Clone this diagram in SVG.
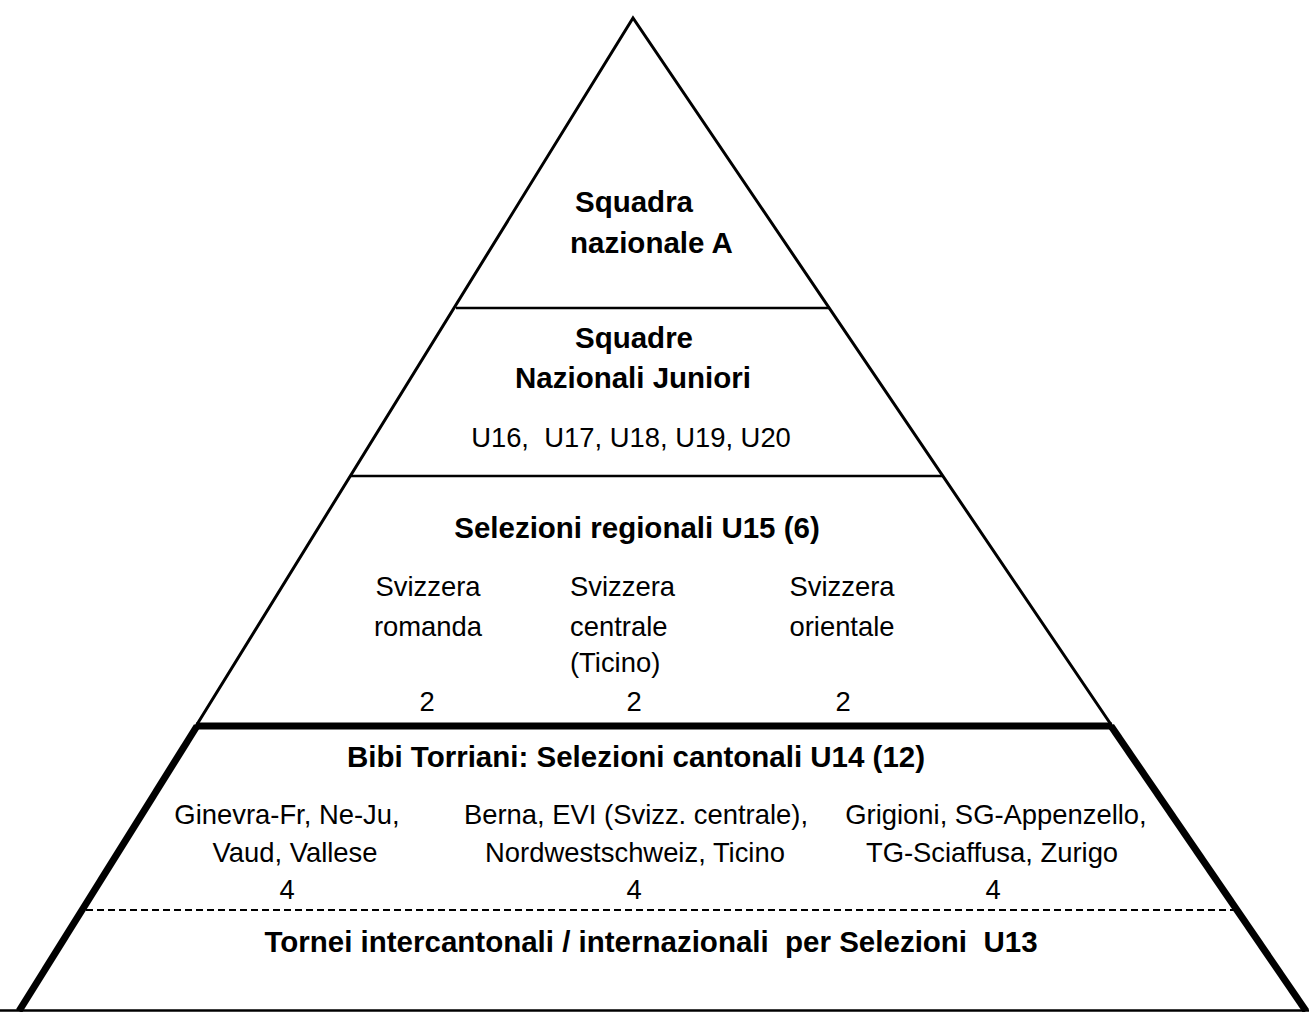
<svg xmlns="http://www.w3.org/2000/svg" width="1309" height="1012" viewBox="0 0 1309 1012">
<style>
  text { font-family: "Liberation Sans", Arial, sans-serif; fill: #000; }
  .b { font-weight: bold; font-size: 29.5px; }
  .r { font-size: 27.4px; }
  .c { text-anchor: middle; }
  .thin { stroke: #000; stroke-width: 3; fill: none; stroke-linecap: round; }
  .sep { stroke: #000; stroke-width: 2.5; fill: none; }
  .thick { stroke: #000; stroke-width: 7; fill: none; }
  .dash { stroke: #000; stroke-width: 2; fill: none; stroke-dasharray: 7 4; }
</style>
<rect width="1309" height="1012" fill="#fff"/>
<g id="connectors">
  <polyline class="thin" points="196,726 633,18 1112,726"/>
  <line class="thick" x1="197" y1="726" x2="19" y2="1011"/>
  <line class="thick" x1="1111" y1="726" x2="1306" y2="1011"/>
  <line class="sep" x1="456" y1="308" x2="830" y2="308"/>
  <line class="sep" x1="350" y1="476" x2="943" y2="476"/>
  <line class="thick" x1="196" y1="726" x2="1112" y2="726"/>
  <line class="dash" x1="86" y1="910" x2="1236" y2="910"/>
  <line class="sep" x1="0" y1="1010.5" x2="1309" y2="1010.5"/>
</g>
<g id="level-squadra-nazionale-a">
  <text class="b" x="575" y="212">Squadra</text>
  <text class="b" x="570" y="253">nazionale A</text>
</g>
<g id="level-squadre-juniori">
  <text class="b c" x="634" y="348">Squadre</text>
  <text class="b c" x="633" y="388">Nazionali Juniori</text>
  <text class="r c" x="631" y="447" xml:space="preserve">U16,  U17, U18, U19, U20</text>
</g>
<g id="level-selezioni-regionali">
  <text class="b c" x="637" y="538">Selezioni regionali U15 (6)</text>
  <text class="r c" x="428" y="596">Svizzera</text>
  <text class="r c" x="428" y="636">romanda</text>
  <text class="r c" x="427" y="711">2</text>
  <text class="r" x="570" y="596">Svizzera</text>
  <text class="r" x="570" y="636">centrale</text>
  <text class="r" x="570" y="672">(Ticino)</text>
  <text class="r c" x="634" y="711">2</text>
  <text class="r c" x="842" y="596">Svizzera</text>
  <text class="r c" x="842" y="636">orientale</text>
  <text class="r c" x="843" y="711">2</text>
</g>
<g id="level-selezioni-cantonali">
  <text class="b c" x="636" y="767">Bibi Torriani: Selezioni cantonali U14 (12)</text>
  <text class="r c" x="287" y="824">Ginevra-Fr, Ne-Ju,</text>
  <text class="r c" x="295" y="862">Vaud, Vallese</text>
  <text class="r c" x="287" y="899">4</text>
  <text class="r c" x="636" y="824">Berna, EVI (Svizz. centrale),</text>
  <text class="r c" x="635" y="862">Nordwestschweiz, Ticino</text>
  <text class="r c" x="634" y="899">4</text>
  <text class="r c" x="996" y="824">Grigioni, SG-Appenzello,</text>
  <text class="r c" x="992" y="862">TG-Sciaffusa, Zurigo</text>
  <text class="r c" x="993" y="899">4</text>
</g>
<g id="level-tornei-u13">
  <text class="b c" x="651" y="952" xml:space="preserve">Tornei intercantonali / internazionali  per Selezioni  U13</text>
</g>
</svg>
